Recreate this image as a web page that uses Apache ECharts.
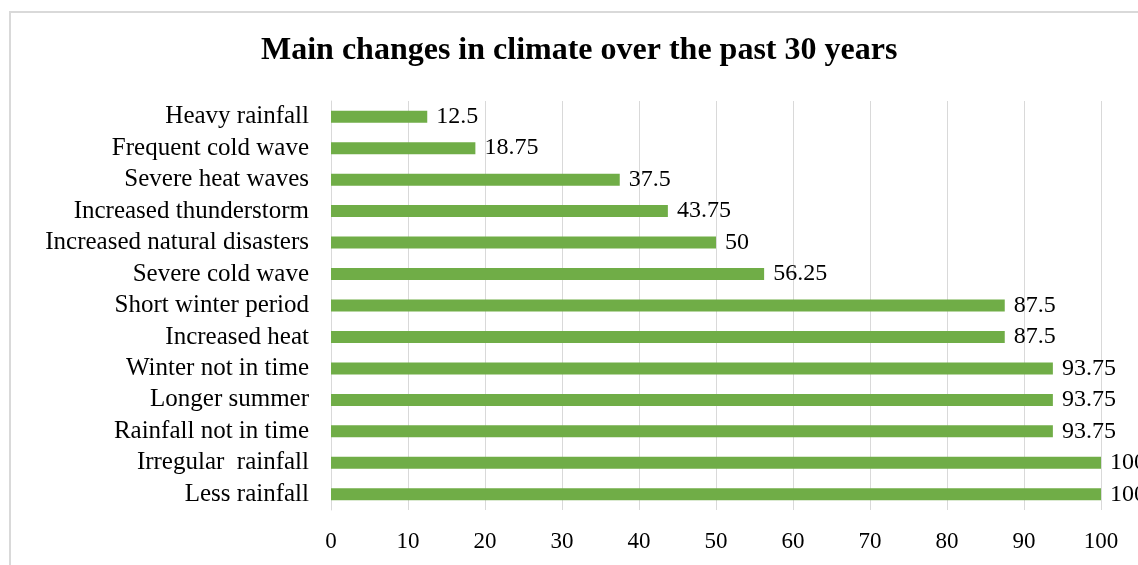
<!DOCTYPE html>
<html>
<head>
<meta charset="utf-8">
<script src="https://cdn.jsdelivr.net/npm/echarts@6/dist/echarts.min.js"></script>
<style>
  html, body { margin: 0; padding: 0; background: #fff; }
  #main { width: 1138px; height: 565px; }
  .frame { position: absolute; left: 9px; top: 11px; width: 1140px; height: 560px; border: 2px solid #d9d9d9; box-sizing: border-box; pointer-events: none; }
</style>
</head>
<body>
<div id="main"></div>
<div class="frame"></div>
<script>
  var changes = ['Heavy rainfall', 'Frequent cold wave', 'Severe heat waves', 'Increased thunderstorm',
    'Increased natural disasters', 'Severe cold wave', 'Short winter period', 'Increased heat',
    'Winter not in time', 'Longer summer', 'Rainfall not in time', 'Irregular  rainfall', 'Less rainfall'];
  var percent = [12.5, 18.75, 37.5, 43.75, 50, 56.25, 87.5, 87.5, 93.75, 93.75, 93.75, 100, 100];

  var font = '"Liberation Serif", "DejaVu Serif", serif';

  var option = {
    backgroundColor: '#fff',
    animation: false,
    title: {
      text: 'Main changes in climate over the past 30 years',
      left: 256,
      top: 30,
      textStyle: { fontFamily: font, fontSize: 32, fontWeight: 'bold', color: '#000' }
    },
    grid: { left: 331, right: 37, top: 101, bottom: 55 },
    xAxis: {
      type: 'value',
      min: 0,
      max: 100,
      interval: 10,
      axisLine: { show: false },
      axisTick: { show: false },
      splitLine: { lineStyle: { color: '#d9d9d9', width: 1 } },
      axisLabel: { fontFamily: font, fontSize: 23, color: '#000', margin: 20 }
    },
    yAxis: {
      type: 'category',
      inverse: true,
      data: changes,
      axisLine: { lineStyle: { color: '#d9d9d9' } },
      axisTick: { show: false },
      axisLabel: { interval: 0, fontFamily: font, fontSize: 25, lineHeight: 26, color: '#000', margin: 22 }
    },
    series: [{
      type: 'bar',
      data: percent,
      barWidth: 12,
      itemStyle: { color: '#70ad47' },
      label: {
        show: true,
        position: 'right',
        distance: 9,
        fontFamily: font,
        fontSize: 24,
        color: '#000'
      }
    }]
  };

  var myChart = echarts.init(document.getElementById('main'));
  myChart.setOption(option);
</script>
</body>
</html>
